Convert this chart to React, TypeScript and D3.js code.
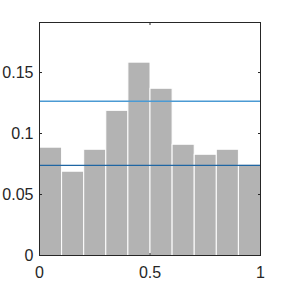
import React, { useEffect, useRef } from "react";
import * as d3 from "d3";

const binEdges = [0, 0.1, 0.2, 0.3, 0.4, 0.5, 0.6, 0.7, 0.8, 0.9, 1];
const binValues = [0.0888, 0.0691, 0.0871, 0.119, 0.1585, 0.1371, 0.0912, 0.083, 0.0871, 0.0748];
const upperLevel = 0.1265;
const lowerLevel = 0.0738;
const xTicks = [0, 0.5, 1];
const yTicks = [0, 0.05, 0.1, 0.15];

function App(): JSX.Element {
  const ref = useRef<SVGSVGElement>(null);

  useEffect(() => {
    if (!ref.current) return;
    const svg = d3.select(ref.current);
    svg.selectAll("*").remove();

    const left = 39.5, right = 260.5, top = 22.5, bottom = 255.5;
    const x = d3.scaleLinear().domain([0, 1]).range([left, right]);
    const y = d3.scaleLinear().domain([0, 0.191]).range([bottom, top]);

    svg.append("rect").attr("width", 288).attr("height", 288).attr("fill", "white");

    const bins = binValues.map((v, i) => ({ x0: binEdges[i], x1: binEdges[i + 1], v }));
    svg
      .selectAll(".bar")
      .data(bins)
      .enter()
      .append("rect")
      .attr("class", "bar")
      .attr("x", (d) => x(d.x0))
      .attr("y", (d) => y(d.v))
      .attr("width", (d) => x(d.x1) - x(d.x0))
      .attr("height", (d) => y(0) - y(d.v))
      .attr("fill", "#b3b3b3")
      .attr("stroke", "white")
      .attr("stroke-width", 1);

    svg
      .append("line")
      .attr("x1", left).attr("x2", right)
      .attr("y1", y(upperLevel)).attr("y2", y(upperLevel))
      .attr("stroke", "#4b9ad3")
      .attr("stroke-width", 1.5);

    svg
      .append("line")
      .attr("x1", left).attr("x2", right)
      .attr("y1", y(lowerLevel)).attr("y2", y(lowerLevel))
      .attr("stroke", "#1f66a3")
      .attr("stroke-width", 1.2);

    // box
    svg
      .append("rect")
      .attr("x", left).attr("y", top)
      .attr("width", right - left).attr("height", bottom - top)
      .attr("fill", "none")
      .attr("stroke", "#262626")
      .attr("stroke-width", 1);

    const tickLen = 2.5;
    const ax = svg.append("g").attr("stroke", "#262626").attr("stroke-width", 1);
    xTicks.forEach((t) => {
      ax.append("line").attr("x1", x(t)).attr("x2", x(t)).attr("y1", bottom).attr("y2", bottom - tickLen);
      ax.append("line").attr("x1", x(t)).attr("x2", x(t)).attr("y1", top).attr("y2", top + tickLen);
    });
    yTicks.forEach((t) => {
      ax.append("line").attr("x1", left).attr("x2", left + tickLen).attr("y1", y(t)).attr("y2", y(t));
      ax.append("line").attr("x1", right).attr("x2", right - tickLen).attr("y1", y(t)).attr("y2", y(t));
    });

    const fmt = (d: number) => String(d);
    svg
      .selectAll(".xl")
      .data(xTicks)
      .enter()
      .append("text")
      .attr("x", (d) => x(d))
      .attr("y", 278)
      .attr("text-anchor", "middle")
      .attr("font-family", "Liberation Sans, Arial, sans-serif")
      .attr("font-size", 16)
      .attr("fill", "#262626")
      .text(fmt);

    svg
      .selectAll(".yl")
      .data(yTicks)
      .enter()
      .append("text")
      .attr("x", left - 6)
      .attr("y", (d) => y(d))
      .attr("dy", "0.36em")
      .attr("text-anchor", "end")
      .attr("font-family", "Liberation Sans, Arial, sans-serif")
      .attr("font-size", 16)
      .attr("fill", "#262626")
      .text(fmt);
  }, []);

  return (
    <svg
      ref={ref}
      width={288}
      height={288}
      style={{ position: "absolute", left: 0, top: 0 }}
    />
  );
}

export default App;
